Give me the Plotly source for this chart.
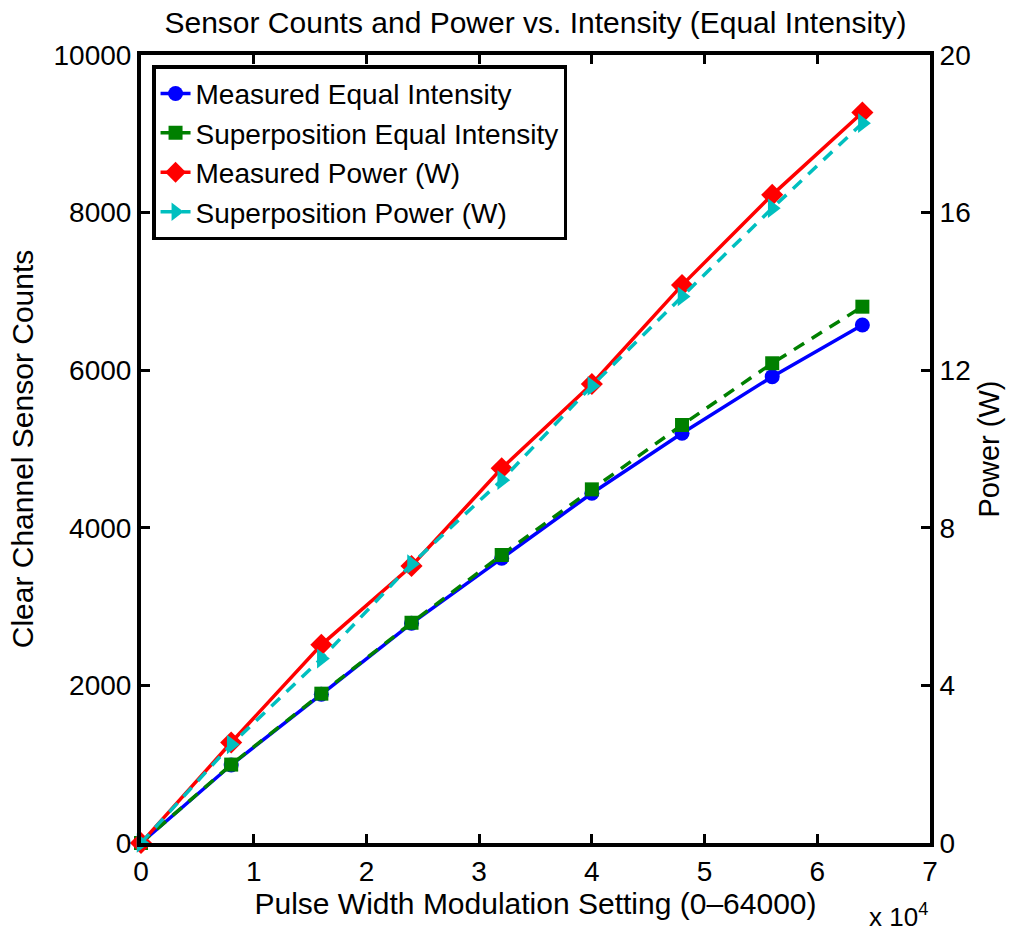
import plotly.graph_objects as go

pwm = [0, 8000, 16000, 24000, 32000, 40000, 48000, 56000, 64000]
measured_counts = [0, 990, 1887, 2788, 3613, 4438, 5200, 5918, 6574]
superpos_counts = [0, 995, 1895, 2795, 3655, 4488, 5305, 6088, 6806]
measured_power = [0, 2.55, 5.03, 7.03, 9.51, 11.65, 14.16, 16.45, 18.54]
superpos_power = [0, 2.5, 4.68, 7.08, 9.21, 11.6, 13.87, 16.11, 18.27]

x_tickvals = [0, 10000, 20000, 30000, 40000, 50000, 60000, 70000]
x_ticktext = ["0", "1", "2", "3", "4", "5", "6", "7"]
y_tickvals = [0, 2000, 4000, 6000, 8000, 10000]
y_ticktext = ["0", "2000", "4000", "6000", "8000", "10000"]
y2_tickvals = [0, 4, 8, 12, 16, 20]
y2_ticktext = ["0", "4", "8", "12", "16", "20"]

FONT = "Liberation Sans, Arial, Helvetica, sans-serif"

fig = go.Figure()
fig.add_trace(go.Scatter(
    x=pwm, y=measured_counts, name="Measured Equal Intensity",
    mode="lines+markers", line=dict(color="#0000FF", width=3.5),
    marker=dict(symbol="circle", size=15, color="#0000FF"), cliponaxis=False))
fig.add_trace(go.Scatter(
    x=pwm, y=superpos_counts, name="Superposition Equal Intensity",
    mode="lines+markers", line=dict(color="#008000", width=3.5, dash="12px,9px"),
    marker=dict(symbol="square", size=14, color="#008000"), cliponaxis=False))
fig.add_trace(go.Scatter(
    x=pwm, y=measured_power, name="Measured Power (W)", yaxis="y2",
    mode="lines+markers", line=dict(color="#FF0000", width=3.5),
    marker=dict(symbol="diamond", size=17, color="#FF0000"), cliponaxis=False))
fig.add_trace(go.Scatter(
    x=pwm, y=superpos_power, name="Superposition Power (W)", yaxis="y2",
    mode="lines+markers", line=dict(color="#00BFBF", width=3.5, dash="12px,9px"),
    marker=dict(symbol="triangle-right", size=17, color="#00BFBF"), cliponaxis=False))

fig.update_layout(
    width=1010, height=931,
    margin=dict(l=141, r=80, t=55, b=88, autoexpand=False),
    paper_bgcolor="white", plot_bgcolor="white",
    font=dict(family=FONT, size=28, color="black"),
    title=dict(text="Sensor Counts and Power vs. Intensity (Equal Intensity)",
               x=0.5, xanchor="center", xref="paper",
               y=1 - 22 / 931, yanchor="middle", yref="container",
               font=dict(size=30, family=FONT, color="black")),
    xaxis=dict(range=[0, 70000], tickvals=x_tickvals, ticktext=x_ticktext,
               showline=True, linecolor="black", linewidth=4, mirror="ticks",
               ticks="inside", ticklen=9, tickwidth=3, tickcolor="black",
               showgrid=False, zeroline=False, tickfont=dict(size=28),
               title=dict(text="Pulse Width Modulation Setting (0\u201364000)",
                          font=dict(size=30), standoff=4)),
    yaxis=dict(range=[0, 10000], tickvals=y_tickvals, ticktext=y_ticktext,
               showline=True, linecolor="black", linewidth=4,
               ticks="inside", ticklen=9, tickwidth=3, tickcolor="black",
               showgrid=False, zeroline=False, tickfont=dict(size=28),
               title=dict(text="Clear Channel Sensor Counts", font=dict(size=30), standoff=12)),
    yaxis2=dict(range=[0, 20], tickvals=y2_tickvals, ticktext=y2_ticktext,
                overlaying="y", side="right",
                showline=True, linecolor="black", linewidth=4,
                ticks="inside", ticklen=9, tickwidth=3, tickcolor="black",
                showgrid=False, zeroline=False, tickfont=dict(size=28),
                title=dict(text="Power (W)", font=dict(size=29), standoff=10)),
    legend=dict(x=0.014, y=0.987, xanchor="left", yanchor="top",
                bgcolor="white", bordercolor="black", borderwidth=3.5,
                font=dict(size=28, family=FONT), tracegroupgap=0),
    showlegend=True,
)

fig.add_annotation(text="x 10<sup>4</sup>", xref="paper", yref="paper",
                   x=1.0, y=-0.068, xanchor="right", yanchor="top",
                   showarrow=False, font=dict(size=26, family=FONT))

fig.write_html("out.html")
